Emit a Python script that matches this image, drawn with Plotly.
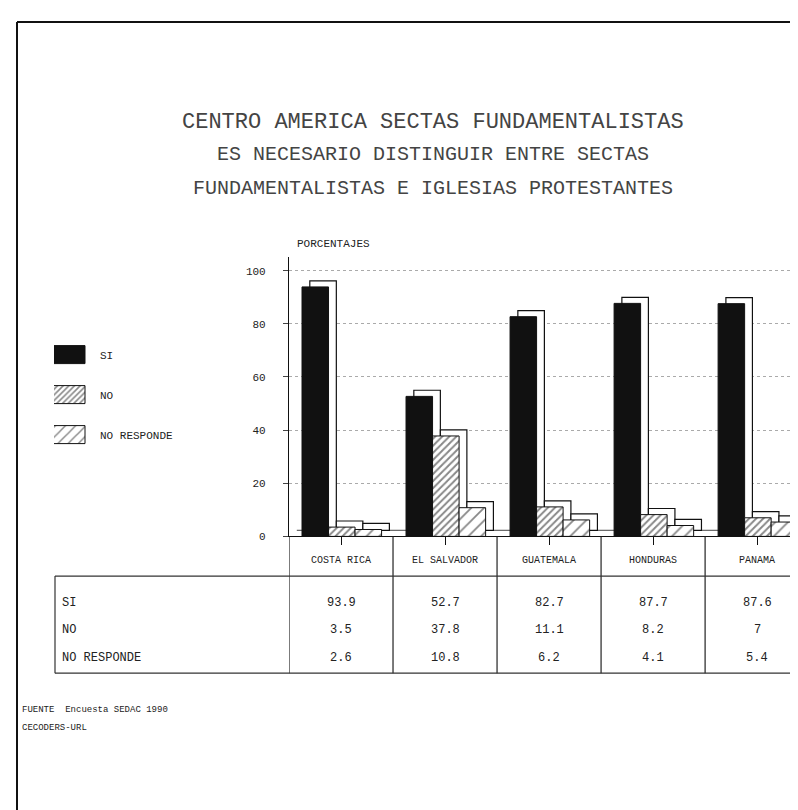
import plotly.graph_objects as go

W, H = 798, 810

categories = ["COSTA RICA", "EL SALVADOR", "GUATEMALA", "HONDURAS", "PANAMA"]
series_names = ["SI", "NO", "NO RESPONDE"]
si_values = [93.9, 52.7, 82.7, 87.7, 87.6]
no_values = [3.5, 37.8, 11.1, 8.2, 7]
nr_values = [2.6, 10.8, 6.2, 4.1, 5.4]
y_ticks = [0, 20, 40, 60, 80, 100]

title_lines = [
    "CENTRO AMERICA SECTAS FUNDAMENTALISTAS",
    "ES NECESARIO DISTINGUIR ENTRE SECTAS",
    "FUNDAMENTALISTAS E IGLESIAS PROTESTANTES",
]
y_title = "PORCENTAJES"
source_lines = ["FUENTE  Encuesta SEDAC 1990", "CECODERS-URL"]

MONO = "Liberation Mono"
INK = "#222"


def px_x(p):
    return p / W


def px_y(p):
    return 1 - p / H


series = [si_values, no_values, nr_values]
bar_w = 0.255
offsets = [-0.375, -0.12, 0.135]
dx, dy = 0.075, 2.3
patterns = [
    dict(shape=""),
    dict(shape="/", size=5, solidity=0.4, fgcolor="#111", bgcolor="white"),
    dict(shape="/", size=9, solidity=0.2, fgcolor="#111", bgcolor="white"),
]
fills = ["#111", "white", "white"]

fig = go.Figure()

# 3D extrusion (drawn behind)
for vals, off in zip(series, offsets):
    fig.add_trace(go.Bar(
        x=categories, y=vals, base=[dy] * len(vals),
        offset=off + dx, width=bar_w,
        marker=dict(color="white", line=dict(color="#111", width=1.2)),
        showlegend=False, hoverinfo="skip",
    ))

# front faces
for i, (vals, off, name) in enumerate(zip(series, offsets, series_names)):
    fig.add_trace(go.Bar(
        x=categories, y=vals, name=name,
        offset=off, width=bar_w,
        marker=dict(color=fills[i], pattern=patterns[i],
                    line=dict(color="#111", width=1)),
        legendgroup=name,
    ))

shapes = []
# page frame
shapes.append(dict(type="line", xref="paper", yref="paper", x0=px_x(9), x1=1,
                   y0=px_y(14), y1=px_y(14), line=dict(color="#111", width=2)))
shapes.append(dict(type="line", xref="paper", yref="paper", x0=px_x(9), x1=px_x(9),
                   y0=px_y(14), y1=0, line=dict(color="#111", width=2)))
# floor back edge
shapes.append(dict(type="line", xref="x", yref="y", x0=-0.5 + dx, x1=4.6,
                   y0=dy, y1=dy, line=dict(color="#444", width=1), layer="below"))
# table lines
for k in range(len(categories)):
    shapes.append(dict(type="line", xref="x", yref="paper", x0=k - 0.5, x1=k - 0.5,
                       y0=px_y(533), y1=px_y(671), line=dict(color="#222", width=1.2)))
shapes.append(dict(type="line", xref="paper", yref="paper", x0=px_x(47), x1=1,
                   y0=px_y(573), y1=px_y(573), line=dict(color="#333", width=1.2)))
shapes.append(dict(type="line", xref="paper", yref="paper", x0=px_x(47), x1=1,
                   y0=px_y(671), y1=px_y(671), line=dict(color="#333", width=1.2)))
shapes.append(dict(type="line", xref="paper", yref="paper", x0=px_x(47), x1=px_x(47),
                   y0=px_y(573), y1=px_y(671), line=dict(color="#333", width=1.2)))

annotations = []
title_y = [115, 148, 182]
title_size = [22, 20, 20]
for t, yy, fs in zip(title_lines, title_y, title_size):
    annotations.append(dict(text=t, xref="paper", yref="paper", x=px_x(425), y=px_y(yy),
                            xanchor="center", yanchor="middle", showarrow=False,
                            font=dict(family=MONO, size=fs, color="#444")))
annotations.append(dict(text=y_title, xref="paper", yref="paper", x=px_x(287), y=px_y(238),
                        xanchor="left", yanchor="middle", showarrow=False,
                        font=dict(family=MONO, size=11, color=INK)))
row_y = [600, 627, 656]
for name, vals, yy in zip(series_names, series, row_y):
    annotations.append(dict(text=name, xref="paper", yref="paper", x=px_x(52), y=px_y(yy),
                            xanchor="left", yanchor="middle", showarrow=False,
                            font=dict(family=MONO, size=12, color=INK)))
    for c, v in zip(categories, vals):
        annotations.append(dict(text=f"{v:g}", xref="x", yref="paper", x=c, y=px_y(yy),
                                xanchor="center", yanchor="middle", showarrow=False,
                                font=dict(family=MONO, size=12, color=INK)))
for s, yy in zip(source_lines, [708, 726]):
    annotations.append(dict(text=s, xref="paper", yref="paper", x=px_x(12), y=px_y(yy),
                            xanchor="left", yanchor="middle", showarrow=False,
                            font=dict(family=MONO, size=9, color=INK)))

fig.update_layout(
    width=W, height=H,
    margin=dict(l=0, r=0, t=0, b=0),
    paper_bgcolor="white", plot_bgcolor="white",
    barmode="overlay",
    showlegend=True,
    legend=dict(x=px_x(46), y=px_y(335), xanchor="left", yanchor="top",
                font=dict(family=MONO, size=11, color=INK),
                traceorder="grouped", tracegroupgap=21, itemwidth=36,
                bgcolor="rgba(0,0,0,0)"),
    xaxis=dict(domain=[px_x(281), 1], range=[-0.5, 4.47],
               showline=True, linecolor="#111", linewidth=1.2,
               ticks="outside", ticklen=8, tickcolor="#111",
               ticklabelstandoff=6,
               tickfont=dict(family=MONO, size=10, color=INK),
               showgrid=False, zeroline=False, fixedrange=True),
    yaxis=dict(domain=[px_y(533), px_y(251.6)], range=[0, 105],
               tickvals=y_ticks, ticktext=[str(v) for v in y_ticks],
               showline=True, linecolor="#111", linewidth=1.2,
               ticks="outside", ticklen=5, tickcolor="#444",
               ticklabelstandoff=15,
               tickfont=dict(family=MONO, size=11, color=INK),
               showgrid=True, gridcolor="#aaa", griddash="dot", gridwidth=1,
               zeroline=False, fixedrange=True),
    shapes=shapes,
    annotations=annotations,
)

post = """
(function(){
  var s = document.createElement('style');
  s.textContent = ".legend .legendpoints path { d: path('M8,9H-30V-9H8Z'); }";
  document.head.appendChild(s);
})();
"""
fig.write_html("out.html", post_script=post, config={"displayModeBar": False})
